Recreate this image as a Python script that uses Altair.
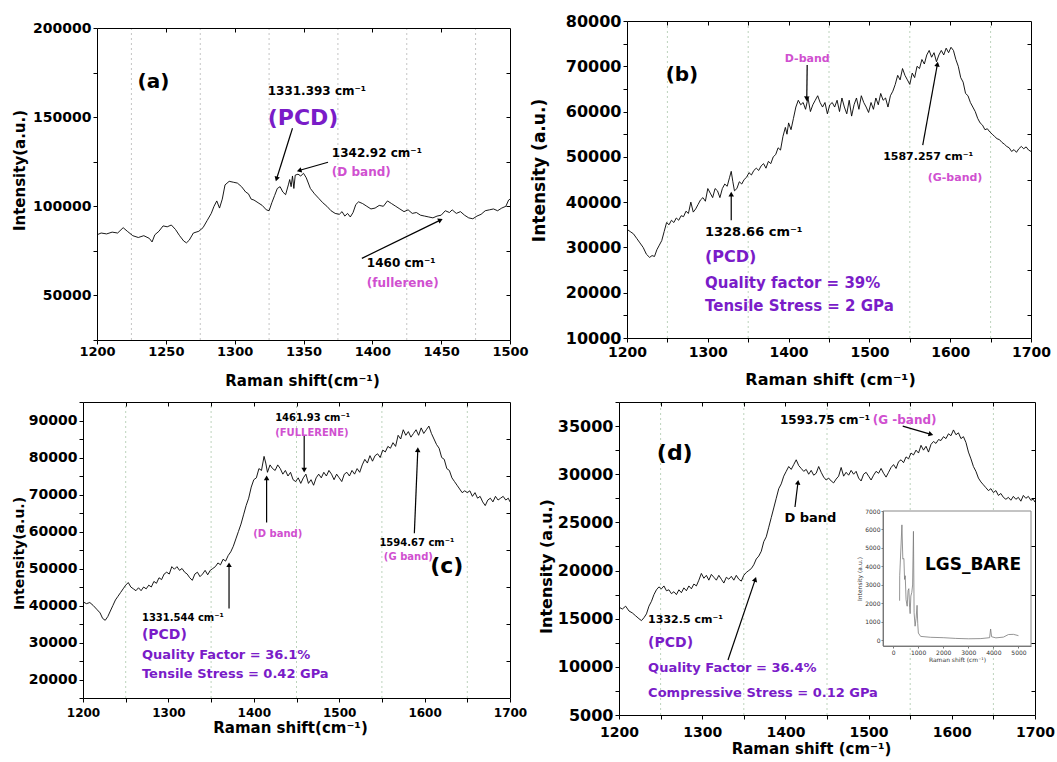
import math
import altair as alt
import pandas as pd

FONT = "DejaVu Sans"
PURPLE = "#7a1cc8"
PINK = "#d050d0"
W, H = 1057, 762

# ---------------- spectra ----------------
a_shift = [1200,1203,1207,1211,1215,1219,1222,1226,1230,1234,1238,1240,1242,1245,1248,1251,1254,1257,1260,1263,1265,1267,1270,1274,1277,1280,1283,1285,1287,1289,1291,1293,1296,1299,1302,1305,1308,1310,1312,1314,1317,1320,1323,1325,1327,1329,1331,1333,1335,1337,1339,1340,1341,1342,1343,1344,1346,1348,1350,1352,1355,1358,1361,1364,1367,1370,1373,1376,1378,1380,1382,1384,1386,1388,1390,1393,1396,1399,1402,1405,1408,1411,1414,1417,1420,1423,1426,1429,1432,1435,1438,1441,1444,1447,1450,1453,1456,1458,1461,1464,1467,1470,1473,1476,1479,1482,1485,1488,1491,1494,1497,1499,1500]
a_int = [84000,85000,84500,85500,85000,88000,86000,83500,82500,83500,82000,80000,84000,86000,89000,88500,89500,87000,83500,80500,79500,81000,85000,86000,88000,92000,96000,100000,103000,99000,104000,112000,114000,113500,113000,111000,108000,107000,104000,103500,102000,100500,98000,97500,102000,106000,110000,111000,108000,106500,112000,115000,111000,117000,110000,117500,118000,117000,118500,116000,110000,107000,104500,102000,100000,97500,96000,95500,97000,94500,96000,94000,96500,101000,102500,101500,100000,98500,99000,100500,100000,103000,101500,100000,98500,97000,98000,96000,96500,95000,94500,94000,93500,94500,95000,97500,96500,98000,96000,97000,95000,93500,93000,94500,95500,97500,98000,98500,97500,99000,100000,103500,104000]

b_shift = [1200,1204,1208,1212,1216,1220,1224,1228,1231,1234,1237,1240,1243,1246,1249,1252,1255,1258,1261,1264,1267,1270,1273,1276,1279,1282,1285,1288,1291,1294,1297,1300,1303,1306,1309,1312,1315,1318,1321,1324,1327,1329,1331,1333,1336,1339,1342,1345,1348,1351,1354,1357,1360,1363,1366,1369,1372,1375,1378,1381,1384,1387,1390,1393,1396,1398,1400,1403,1406,1409,1412,1415,1418,1421,1424,1427,1430,1433,1436,1439,1442,1445,1448,1451,1454,1457,1460,1463,1466,1469,1472,1475,1478,1481,1484,1487,1490,1493,1496,1499,1502,1505,1508,1511,1514,1517,1520,1523,1526,1529,1532,1535,1538,1541,1544,1547,1550,1553,1556,1559,1562,1565,1568,1571,1574,1577,1580,1583,1586,1589,1592,1595,1598,1601,1604,1607,1610,1613,1616,1619,1622,1625,1628,1631,1634,1637,1640,1643,1646,1649,1652,1655,1658,1661,1664,1667,1670,1673,1676,1679,1682,1685,1688,1691,1694,1697,1700]
b_int = [34000,33500,33000,32000,31000,30000,28500,27800,28200,28000,29500,30500,31500,33500,35500,35000,36000,35500,36500,36000,37000,36800,38000,37500,40000,37800,38500,39500,40500,41000,40200,43000,42000,41000,43000,42500,41000,43000,44000,43500,45500,46800,44500,42500,43000,44500,44000,45000,45500,46500,46000,47000,47500,47000,48000,48500,47500,49000,48500,50000,50500,52000,51500,54500,56500,55000,57500,56000,58500,61000,62500,61500,62000,60500,63000,60000,61500,62500,63500,62000,61000,62000,59500,61500,62000,61000,62500,60000,63000,61000,59500,62500,59000,61500,63000,60500,63500,62000,61000,59800,62000,60500,63000,61500,64000,62500,63000,61000,63500,64500,66000,68000,67000,69500,68000,67000,66000,68500,67500,70000,69500,71500,70500,72500,73500,72000,73000,71000,72500,73500,72500,74000,73000,74200,73500,71500,70000,67500,66500,64000,63500,62000,61000,60000,58500,57500,57000,56000,56200,55500,55000,54500,54000,53800,53200,52800,52300,52000,51200,51600,51000,51800,52300,51800,52200,51500,51200]

c_shift = [1200,1204,1208,1212,1216,1220,1223,1226,1229,1232,1235,1238,1241,1244,1247,1250,1253,1256,1259,1262,1265,1268,1271,1274,1277,1280,1283,1286,1289,1292,1295,1298,1301,1304,1307,1310,1313,1316,1319,1322,1325,1328,1331,1334,1337,1340,1343,1346,1349,1352,1355,1358,1361,1364,1367,1370,1373,1376,1379,1382,1385,1388,1391,1394,1397,1400,1403,1406,1409,1412,1414,1416,1419,1422,1425,1428,1431,1434,1437,1440,1443,1446,1449,1452,1455,1458,1461,1464,1467,1470,1473,1476,1479,1482,1485,1488,1491,1494,1497,1500,1503,1506,1509,1512,1515,1518,1521,1524,1527,1530,1533,1536,1539,1542,1545,1548,1551,1554,1557,1560,1563,1566,1569,1572,1575,1578,1581,1584,1587,1590,1593,1596,1599,1602,1605,1608,1611,1614,1617,1620,1623,1626,1629,1632,1635,1638,1641,1644,1647,1650,1653,1656,1659,1662,1665,1668,1671,1674,1677,1680,1683,1686,1689,1692,1695,1698,1700]
c_int = [41000,40500,40800,40000,39000,38000,36500,36000,37000,38500,40000,41500,42500,43500,44500,45500,46200,45000,44500,44000,44800,44000,45000,44500,45500,45000,46500,46000,47500,47000,48500,49000,48500,50500,49800,50500,49500,50000,49000,48500,47500,46800,48500,49000,47800,48500,49500,48300,49500,50000,50500,51500,51000,52500,52000,53500,54500,56000,58000,60000,62000,64500,67000,69000,72000,74000,74500,77000,76500,80300,78500,76000,78000,77000,76500,78000,77000,75500,76500,75000,76000,74000,73500,74500,73000,74500,75500,73000,74000,72500,74500,75500,74500,76000,75000,76500,75500,74000,75500,74500,73500,75500,76000,75000,76500,75500,77000,76000,78000,79500,78500,80500,79000,80500,81000,80000,82000,81500,83000,82500,84000,83000,86000,85000,87500,86000,87000,85500,86500,87500,86000,88000,86500,87500,88500,86500,85000,83500,82500,80000,79500,77000,76500,74500,73500,72500,71500,70500,71000,70500,71000,69500,70500,69000,69500,68000,67000,68500,69000,68000,69500,68500,69000,69500,68500,69000,68000]

d_shift = [1200,1204,1208,1212,1216,1220,1224,1227,1230,1233,1236,1239,1242,1245,1248,1251,1254,1257,1260,1263,1266,1269,1272,1275,1278,1281,1284,1287,1290,1293,1296,1299,1302,1305,1308,1311,1314,1317,1320,1323,1326,1329,1332,1335,1338,1341,1344,1347,1350,1353,1356,1359,1362,1365,1368,1371,1374,1377,1380,1383,1386,1389,1392,1395,1398,1401,1404,1407,1410,1413,1416,1419,1422,1425,1428,1431,1434,1437,1440,1443,1446,1449,1452,1455,1458,1461,1464,1467,1470,1473,1476,1479,1482,1485,1488,1491,1494,1497,1500,1503,1506,1509,1512,1515,1518,1521,1524,1527,1530,1533,1536,1539,1542,1545,1548,1551,1554,1557,1560,1563,1566,1569,1572,1575,1578,1581,1584,1587,1590,1593,1596,1599,1602,1605,1608,1611,1614,1617,1620,1623,1626,1629,1632,1635,1638,1641,1644,1647,1650,1653,1656,1659,1662,1665,1668,1671,1674,1677,1680,1683,1686,1689,1692,1695,1698,1700]
d_int = [16200,16000,16300,15800,15600,15300,15000,14800,15100,15500,16300,16800,17500,18000,18300,18100,18400,17900,18000,17600,17800,17500,18000,17700,18200,17900,18400,18100,18600,18400,19000,19700,19200,19500,19000,19600,19300,19000,19500,19100,18700,19300,19100,19400,19000,19500,19100,18900,19500,19800,20000,20200,20600,21200,21500,22000,23000,23500,24500,25500,26500,27500,28500,29000,29800,30300,30800,30500,31000,31500,30900,30600,30300,30500,30000,30400,29900,30100,30800,30200,29700,29400,29600,29300,29100,29500,29800,30700,29800,30200,29900,30400,30000,30300,29600,29300,30000,30200,29800,29400,29900,30300,30100,30600,30100,29700,30200,30700,31000,30600,31300,31500,31200,31800,31600,32200,32000,32500,32200,33000,32500,32900,32300,33100,33400,33200,33600,33500,33900,33700,34200,34000,34600,34100,34300,33700,33900,33300,32300,31600,30800,30300,29600,29200,28900,28600,28300,28500,28100,28300,27800,28000,27600,27400,27600,27300,27700,27400,27600,27200,27800,27500,27700,27300,27400,27100]

inset_shift = [262,266,354,390,433,460,486,520,564,600,630,660,682,710,748,780,814,840,879,920,958,985,1010,1100,1500,2000,2500,3000,3500,3850,3890,3930,4100,4400,4600,4800,5000]
inset_int = [2150,3500,6250,4400,4430,3300,3500,2200,1850,2700,2800,1800,1450,2400,2600,3000,5900,1500,770,1200,1900,900,400,220,170,150,110,90,100,150,620,200,140,180,320,330,260]

# ---------------- annotations: (text, x, y, kind) in data units ----------------
a_notes = [("(a)", 1241, 169700, "tag"),
           ("1331.393 cm\u207b\u00b9", 1324, 164600, "peak"),
           ("(PCD)", 1324, 149400, "pcd"),
           ("1342.92 cm\u207b\u00b9", 1370.6, 129800, "peak"),
           ("(D band)", 1370.6, 119100, "band"),
           ("1460 cm\u207b\u00b9", 1396, 68000, "peak"),
           ("(fullerene)", 1396, 56700, "band")]
a_arrows = [(1342, 143800, 1330.6, 115700), (1367.8, 124700, 1347.4, 120200), (1392.4, 70800, 1449, 92100)]

b_notes = [("(b)", 1268, 68100, "tag"),
           ("D-band", 1423, 71600, "bandc"),
           ("1587.257 cm\u207b\u00b9", 1517, 50000, "peak"),
           ("(G-band)", 1606, 45300, "bandc"),
           ("1328.66 cm\u207b\u00b9", 1296.5, 33400, "peak2"),
           ("(PCD)", 1296.5, 27900, "pcd"),
           ("Quality factor = 39%", 1296.5, 22150, "info"),
           ("Tensile Stress = 2 GPa", 1296.5, 17100, "info")]
b_arrows = [(1423, 70300, 1422.5, 63000), (1566, 52600, 1584, 70300), (1329, 36000, 1329, 41600)]

c_notes = [("(c)", 1626, 50800, "tag"),
           ("1461.93 cm\u207b\u00b9", 1425, 90800, "peak"),
           ("(FULLERENE)", 1425, 86500, "band"),
           ("(D band)", 1428, 59200, "bandc"),
           ("1594.67 cm\u207b\u00b9", 1591, 57000, "peakc"),
           ("(G band)", 1581, 53200, "bandc"),
           ("1331.544 cm\u207b\u00b9", 1269, 36750, "peak"),
           ("(PCD)", 1269, 31900, "pcd"),
           ("Quality Factor = 36.1%", 1269, 26750, "info"),
           ("Tensile Stress = 0.42 GPa", 1269, 21600, "info")]
c_arrows = [(1459, 86000, 1459, 76800), (1415, 62400, 1415, 74300), (1588, 59500, 1592, 81900), (1371, 39200, 1371, 50800)]

d_notes = [("(d)", 1267, 32200, "tag"),
           ("1593.75 cm\u207b\u00b9", 1393.5, 35620, "peak"),
           ("(G -band)", 1505, 35620, "band"),
           ("D band", 1430, 25450, "dband"),
           ("1332.5 cm\u207b\u00b9", 1235, 14860, "peak2"),
           ("(PCD)", 1235, 12475, "pcd"),
           ("Quality Factor = 36.4%", 1235, 9880, "info"),
           ("Compressive Stress = 0.12 GPa", 1235, 7285, "info")]
d_arrows = [(1541, 35000, 1574, 34170), (1411.5, 26600, 1415, 29080), (1331, 10710, 1363.5, 19010)]

inset_notes = [("LGS_BARE", 3190, 4100, "inset")]


def styles(tag, peak, peak2, band, pcd, info):
    return {
        "tag": dict(color="black", fontSize=tag, align="center"),
        "peak": dict(color="black", fontSize=peak, align="left"),
        "peakc": dict(color="black", fontSize=peak, align="center"),
        "peak2": dict(color="black", fontSize=peak2, align="left"),
        "band": dict(color=PINK, fontSize=band, align="left"),
        "bandc": dict(color=PINK, fontSize=band, align="center"),
        "dband": dict(color="black", fontSize=13, align="center"),
        "pcd": dict(color=PURPLE, fontSize=pcd, align="left"),
        "info": dict(color=PURPLE, fontSize=info, align="left"),
        "inset": dict(color="black", fontSize=17, align="center"),
    }


def text_layers(notes, xsc, ysc, st):
    out = []
    for t, x, y, kind in notes:
        s = st[kind]
        df = pd.DataFrame({"t": [t], "x": [x], "y": [y]})
        out.append(
            alt.Chart(df).mark_text(baseline="middle", font=FONT, fontWeight="bold", **s).encode(
                x=alt.X("x:Q", scale=xsc, axis=None),
                y=alt.Y("y:Q", scale=ysc, axis=None),
                text="t:N",
            )
        )
    return out


def arrow_frame(arrows, xdom, ydom, box):
    x0, y0, x1, y1 = box
    sx = (x1 - x0) / (xdom[1] - xdom[0])
    sy = (y1 - y0) / (ydom[1] - ydom[0])
    rows = []
    for ax, ay, bx, by in arrows:
        dx = (bx - ax) * sx
        dy = -(by - ay) * sy
        ang = math.degrees(math.atan2(dx, -dy)) % 360
        rows.append(dict(x0=ax, y0=ay, x1=bx, y1=by, ang=ang))
    return pd.DataFrame(rows)


def panel_layers(p):
    x0, y0, x1, y1 = p["box"]
    xsc = alt.Scale(domain=p["xdom"], range=[x0, x1], nice=False, zero=False)
    ysc = alt.Scale(domain=p["ydom"], range=[y1, y0], nice=False, zero=False)
    xaxis = alt.Axis(orient="bottom", offset=-(H - y1), values=p["xticks"], format="d",
                     labelExpr=f"datum.value % {p['xstep']} == 0 ? datum.label : ''",
                     title=p["xtitle"], labelFont=FONT, labelFontSize=p["xls"], labelFontWeight="bold",
                     labelColor="black", labelPadding=p["xlp"], labelFlush=False, labelOverlap=False,
                     titleFont=FONT, titleFontSize=p["xts"], titleFontWeight="bold", titleColor="black",
                     titleX=p["xtx"], titleY=p["xty"], titleAlign="center", titleBaseline="top",
                     tickSize=4, tickColor="black", domainColor="black", grid=False, zindex=1)
    yaxis = alt.Axis(orient="left", offset=-x0, values=p["yticks"], format="d",
                     labelExpr=f"datum.value % {p['ystep']} == 0 ? datum.label : ''",
                     title=p["ytitle"],
                     labelFont=FONT, labelFontSize=p["yls"], labelFontWeight="bold", labelColor="black",
                     labelPadding=2, labelOverlap=False, titleFont=FONT, titleFontSize=p["yts"],
                     titleFontWeight="bold", titleColor="black", titleX=-(p["yext"] + p["ytp"]),
                     titleY=p["yty"], titleAngle=270, titleAlign="center", titleBaseline="bottom",
                     minExtent=p["yext"], maxExtent=p["yext"], tickSize=4, tickColor="black",
                     domainColor="black", grid=False, zindex=1)
    top = alt.Axis(orient="bottom", offset=-(H - y0), values=p["topticks"], labels=False,
                   domainColor="black", title=None, grid=False, tickSize=4, tickColor="black", zindex=1)
    right = alt.Axis(orient="left", offset=-x1, values=p["rightticks"], labels=False,
                     domainColor="black", title=None, grid=False, tickSize=4, tickColor="black", zindex=1)

    line = alt.Chart(pd.DataFrame({"x": p["xs"], "y": p["ys"]})).mark_line(
        color="black", strokeWidth=0.9).encode(
        x=alt.X("x:Q", scale=xsc, axis=xaxis), y=alt.Y("y:Q", scale=ysc, axis=yaxis))
    gdf = pd.DataFrame({"g": p["grid"], "lo": p["ydom"][0], "hi": p["ydom"][1]})
    grid = alt.Chart(gdf).mark_rule(color=p["gridcolor"], strokeDash=[2, 3], strokeWidth=1).encode(
        x=alt.X("g:Q", scale=xsc, axis=top), y=alt.Y("lo:Q", scale=ysc, axis=None), y2="hi:Q")
    arr = arrow_frame(p["arrows"], p["xdom"], p["ydom"], p["box"])
    shafts = alt.Chart(arr).mark_rule(color="black", strokeWidth=1.2).encode(
        x=alt.X("x0:Q", scale=xsc, axis=None), y=alt.Y("y0:Q", scale=ysc, axis=right),
        x2="x1:Q", y2="y1:Q")
    heads = alt.Chart(arr).mark_point(shape="triangle", filled=True, color="black", size=30,
                                      opacity=1).encode(
        x=alt.X("x1:Q", scale=xsc, axis=None), y=alt.Y("y1:Q", scale=ysc, axis=None),
        angle=alt.Angle("ang:Q", scale=None))
    texts = text_layers(p["notes"], xsc, ysc, p["styles"])
    return [grid, line, shafts, heads] + texts


GRID_G = "#bcd3bc"
x50 = [1200, 1250, 1300, 1350, 1400, 1450, 1500, 1550, 1600, 1650, 1700]
top50 = [1250, 1300, 1350, 1400, 1450, 1500, 1550, 1600, 1650]
g50 = [1250, 1350, 1450, 1550, 1650]

la = panel_layers(dict(
    box=(97, 28, 510, 340), xdom=[1200, 1500], ydom=[25000, 200000], xs=a_shift, ys=a_int,
    xticks=[1200, 1250, 1300, 1350, 1400, 1450, 1500], xstep=50,
    yticks=[25000, 50000, 75000, 100000, 125000, 150000, 175000, 200000], ystep=50000,
    topticks=[1250, 1300, 1350, 1400, 1450], rightticks=[50000, 75000, 100000, 125000, 150000, 175000],
    grid=[1225, 1275, 1325, 1375, 1425, 1475], gridcolor="#c4c4c4",
    xtitle="Raman shift(cm\u207b\u00b9)", ytitle="Intensity(a.u.)",
    xls=13, xlp=1, xts=15, xtx=302, xty=33, yls=14, yts=15, ytp=4, yext=66, yty=170,
    arrows=a_arrows, notes=a_notes, styles=styles(20, 12, 12, 12, 22, 13),
))

lb = panel_layers(dict(
    box=(627, 21, 1031, 338), xdom=[1200, 1700], ydom=[10000, 80000], xs=b_shift, ys=b_int,
    xticks=x50, xstep=100,
    yticks=[10000, 15000, 20000, 25000, 30000, 35000, 40000, 45000, 50000, 55000, 60000, 65000, 70000, 75000, 80000],
    ystep=10000,
    topticks=top50, rightticks=[15000, 25000, 35000, 45000, 55000, 65000, 75000],
    grid=g50, gridcolor=GRID_G,
    xtitle="Raman shift (cm\u207b\u00b9)", ytitle="Intensity (a.u.)",
    xls=14, xlp=3, xts=16, xtx=830, xty=33, yls=16, yts=17, ytp=15, yext=64, yty=170,
    arrows=b_arrows, notes=b_notes, styles=styles(20, 11, 13, 11, 16, 15),
))

lc = panel_layers(dict(
    box=(83, 402, 510, 698), xdom=[1200, 1700], ydom=[15000, 95000], xs=c_shift, ys=c_int,
    xticks=x50, xstep=100,
    yticks=[15000, 20000, 25000, 30000, 35000, 40000, 45000, 50000, 55000, 60000, 65000, 70000, 75000, 80000, 85000, 90000, 95000],
    ystep=10000,
    topticks=top50, rightticks=[25000, 35000, 45000, 55000, 65000, 75000, 85000],
    grid=g50, gridcolor=GRID_G,
    xtitle="Raman shift(cm\u207b\u00b9)", ytitle="Intensity(a.u.)",
    xls=12, xlp=5, xts=15, xtx=290, xty=22, yls=14, yts=14, ytp=2, yext=55, yty=553,
    arrows=c_arrows, notes=c_notes, styles=styles(22, 10, 10, 10, 14, 13),
))

ld = panel_layers(dict(
    box=(619, 402, 1035, 715), xdom=[1200, 1700], ydom=[5000, 37500], xs=d_shift, ys=d_int,
    xticks=x50, xstep=100,
    yticks=[5000, 7500, 10000, 12500, 15000, 17500, 20000, 22500, 25000, 27500, 30000, 32500, 35000, 37500],
    ystep=5000,
    topticks=top50, rightticks=[7500, 12500, 17500, 22500, 27500, 32500],
    grid=g50, gridcolor=GRID_G,
    xtitle="Raman shift (cm\u207b\u00b9)", ytitle="Intensity (a.u.)",
    xls=14, xlp=6, xts=15, xtx=811, xty=26, yls=16, yts=16, ytp=3, yext=62, yty=566,
    arrows=d_arrows, notes=d_notes, styles=styles(22, 12, 11, 12, 14, 13),
))

# LGS_BARE inset inside panel (d)
IX0, IY0, IX1, IY1 = 883, 511, 1031, 646
ixsc = alt.Scale(domain=[-400, 5500], range=[IX0, IX1], nice=False, zero=False)
iysc = alt.Scale(domain=[-300, 7000], range=[IY1, IY0], nice=False, zero=False)
ixaxis = alt.Axis(orient="bottom", offset=-(H - IY1), values=[0, 1000, 2000, 3000, 4000, 5000],
                  format="d", title="Raman shift (cm\u207b\u00b9)", labelFont=FONT, labelFontSize=6,
                  labelPadding=1, labelFlush=False, labelOverlap=False, tickSize=2,
                  titleFont=FONT, titleFontSize=6, titleFontWeight="normal", titlePadding=1,
                  domainColor="#777", tickColor="#777", labelColor="#333", titleColor="#333",
                  grid=False, zindex=2)
iyaxis = alt.Axis(orient="left", offset=-IX0, values=[0, 1000, 2000, 3000, 4000, 5000, 6000, 7000],
                  format="d", title="Intensity (a.u.)", labelFont=FONT, labelFontSize=6,
                  labelPadding=1, labelOverlap=False, tickSize=2, titleFont=FONT, titleFontSize=6,
                  titleFontWeight="normal", titlePadding=2, domainColor="#777", tickColor="#777",
                  labelColor="#333", titleColor="#333", grid=False, zindex=2)
frame = alt.Chart(pd.DataFrame({"x0": [-400], "x1": [5500], "y0": [-300], "y1": [7000]})).mark_rect(
    fill="white", stroke="#888", strokeWidth=1).encode(
    x=alt.X("x0:Q", scale=ixsc, axis=ixaxis), x2="x1:Q",
    y=alt.Y("y0:Q", scale=iysc, axis=iyaxis), y2="y1:Q")
iline = alt.Chart(pd.DataFrame({"x": inset_shift, "y": inset_int})).mark_line(
    color="#7a7a7a", strokeWidth=0.8).encode(
    x=alt.X("x:Q", scale=ixsc, axis=None), y=alt.Y("y:Q", scale=iysc, axis=None))
ilabel = text_layers(inset_notes, ixsc, iysc, styles(22, 12, 11, 12, 14, 13))

chart = alt.layer(*la, *lb, *lc, *ld, frame, iline, *ilabel).resolve_scale(
    x="independent", y="independent"
).properties(
    width=W, height=H, padding=0, autosize=alt.AutoSizeParams(type="none"), background="white"
).configure_view(strokeWidth=0)

chart.save("out.html", embed_options={"renderer": "svg", "actions": False})
